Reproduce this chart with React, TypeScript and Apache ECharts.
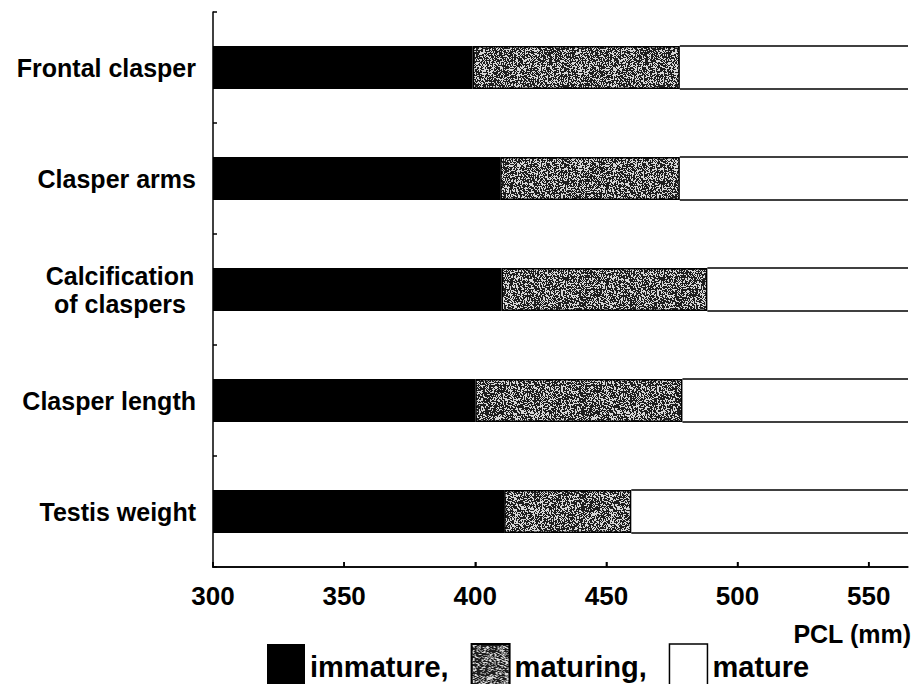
import { useEffect, useRef } from "react";
import * as echarts from "echarts";

// ---- data ----
const categories = [
  "Frontal clasper",
  "Clasper arms",
  "Calcification\nof claspers",
  "Clasper length",
  "Testis weight",
];
const immatureEnd = [399, 409.5, 410, 400, 411];
const maturingEnd = [478, 478, 488.5, 479, 459.5];
const xTicks = [300, 350, 400, 450, 500, 550];
const AXIS_MIN = 300;
const AXIS_MAX = 565;
const legendNames = ["immature", "maturing", "mature"];
const axisName = "PCL (mm)";

const FONT = "'Liberation Sans', Arial, Helvetica, sans-serif";
const BAR_W = 43;
const W = 916;
const H = 684;
const G_LEFT = 213;
const G_RIGHT = 8;
const G_TOP = 12;
const G_BOTTOM = 117;

function makeStipple(): string {
  const size = 96;
  const c = document.createElement("canvas");
  c.width = size;
  c.height = size;
  const ctx = c.getContext("2d");
  if (!ctx) return "";
  const img = ctx.createImageData(size, size);
  for (let y = 0; y < size; y++) {
    for (let x = 0; x < size; x++) {
      let h = (Math.imul(x, 374761393) + Math.imul(y, 668265263)) | 0;
      h = Math.imul(h ^ (h >>> 13), 1274126177);
      h ^= h >>> 16;
      const r = (h >>> 0) / 4294967296;
      const v = r < 0.6 ? 30 : 215;
      const k = (y * size + x) * 4;
      img.data[k] = v;
      img.data[k + 1] = v;
      img.data[k + 2] = v;
      img.data[k + 3] = 255;
    }
  }
  ctx.putImageData(img, 0, 0);
  return c.toDataURL("image/png");
}

export default function App() {
  const ref = useRef<HTMLDivElement>(null);
  useEffect(() => {
    if (!ref.current) return;
    const chart = echarts.init(ref.current, undefined, { renderer: "svg" });
    const stipple = makeStipple();
    const grayFill: any = stipple
      ? { image: stipple, repeat: "repeat", imageWidth: 96, imageHeight: 96 }
      : "#777";

    const maturingLen = maturingEnd.map((v, i) => +(v - immatureEnd[i]).toFixed(2));
    const matureData = maturingEnd.map((v, i) => [v, i]);

    // x-axis baseline + ticks (graphic), positioned from the grid and the axis range
    const yB = H - G_BOTTOM;
    const plotW = W - G_LEFT - G_RIGHT;
    const toX = (v: number) => G_LEFT + ((v - AXIS_MIN) / (AXIS_MAX - AXIS_MIN)) * plotW;
    const axisEls: any[] = [
      {
        type: "rect",
        z: 100,
        silent: true,
        shape: { x: G_LEFT - 0.75, y: yB - 0.75, width: plotW + 0.75, height: 1.5 },
        style: { fill: "#000" },
      },
    ];
    xTicks.forEach((t) => {
      axisEls.push({
        type: "rect",
        z: 100,
        silent: true,
        shape: { x: toX(t) - 0.75, y: yB - 5, width: 1.5, height: 5 },
        style: { fill: "#000" },
      });
    });

    chart.setOption({
      animation: false,
      backgroundColor: "#fff",
      grid: {
        left: G_LEFT,
        right: G_RIGHT,
        top: G_TOP,
        bottom: G_BOTTOM,
        containLabel: false,
      },
      graphic: { elements: axisEls },
      legend: {
        left: 262,
        top: 638,
        itemWidth: 38,
        itemHeight: 46,
        itemGap: 22,
        selectedMode: false,
        textStyle: { fontSize: 29, fontWeight: "bold", fontFamily: FONT, color: "#000" },
        formatter: (name: string) => (name === "mature" ? name : name + ","),
        data: [
          { name: legendNames[0], icon: "rect" },
          { name: legendNames[1], icon: "rect" },
          {
            name: legendNames[2],
            icon: "rect",
            itemStyle: { color: "#fff", borderColor: "#000", borderWidth: 1.5 },
          },
        ],
      },
      xAxis: {
        type: "value",
        position: "bottom",
        min: AXIS_MIN,
        max: AXIS_MAX,
        interval: 50,
        name: axisName,
        nameLocation: "end",
        nameGap: 3,
        nameTextStyle: {
          fontSize: 25,
          fontWeight: "bold",
          fontFamily: FONT,
          color: "#000",
          align: "right",
          verticalAlign: "top",
          padding: [54, 0, 0, 0],
        },
        axisLine: { show: true, onZero: false, lineStyle: { color: "#000", width: 1.5 } },
        axisTick: {
          show: true,
          inside: true,
          length: 5,
          lineStyle: { color: "#000", width: 1.5 },
        },
        axisLabel: {
          showMaxLabel: false,
          formatter: (v: number) => (xTicks.includes(v) ? String(v) : ""),
          margin: 16,
          fontSize: 26,
          fontWeight: "bold",
          fontFamily: FONT,
          color: "#000",
        },
        splitLine: { show: false },
      },
      yAxis: {
        type: "category",
        data: categories,
        inverse: true,
        axisLine: { show: true, onZero: false, lineStyle: { color: "#000", width: 1.5 } },
        axisTick: {
          show: true,
          inside: true,
          length: 4,
          lineStyle: { color: "#000", width: 1.5 },
        },
        axisLabel: {
          margin: 17,
          fontSize: 25,
          fontWeight: "bold",
          fontFamily: FONT,
          color: "#000",
          formatter: (v: string) =>
            v.includes("\n")
              ? v
                  .split("\n")
                  .map((s) => `{c|${s}}`)
                  .join("\n")
              : v,
          rich: {
            c: {
              width: 152,
              align: "center",
              fontSize: 25,
              fontWeight: "bold",
              fontFamily: FONT,
              color: "#000",
              lineHeight: 28,
            },
          },
        },
        splitLine: { show: false },
      },
      series: [
        {
          name: legendNames[0],
          type: "bar",
          stack: "pcl",
          barWidth: BAR_W,
          data: immatureEnd,
          itemStyle: { color: "#000", borderWidth: 0 },
        },
        {
          name: legendNames[1],
          type: "bar",
          stack: "pcl",
          barWidth: BAR_W,
          data: maturingLen,
          itemStyle: { color: grayFill, borderColor: "#000", borderWidth: 1.5 },
        },
        {
          name: legendNames[2],
          type: "custom",
          encode: { x: 0, y: 1 },
          data: matureData,
          itemStyle: { color: "#fff", borderColor: "#000", borderWidth: 1.5 },
          renderItem: (_params: any, api: any) => {
            const start = api.value(0);
            const idx = api.value(1);
            const p0 = api.coord([start, idx]);
            const p1 = api.coord([AXIS_MAX, idx]);
            const top = p0[1] - BAR_W / 2;
            const bot = p0[1] + BAR_W / 2;
            return {
              type: "group",
              children: [
                {
                  type: "rect",
                  shape: { x: p0[0], y: top, width: p1[0] - p0[0], height: BAR_W },
                  style: { fill: "#fff" },
                },
                {
                  type: "line",
                  shape: { x1: p0[0], y1: top, x2: p1[0], y2: top },
                  style: { stroke: "#000", lineWidth: 1.5 },
                },
                {
                  type: "line",
                  shape: { x1: p0[0], y1: bot, x2: p1[0], y2: bot },
                  style: { stroke: "#000", lineWidth: 1.5 },
                },
              ],
            };
          },
        },
      ],
    });

    return () => chart.dispose();
  }, []);
  return (
    <div
      ref={ref}
      style={{ position: "fixed", left: 0, top: 0, width: W, height: H, background: "#fff" }}
    />
  );
}
